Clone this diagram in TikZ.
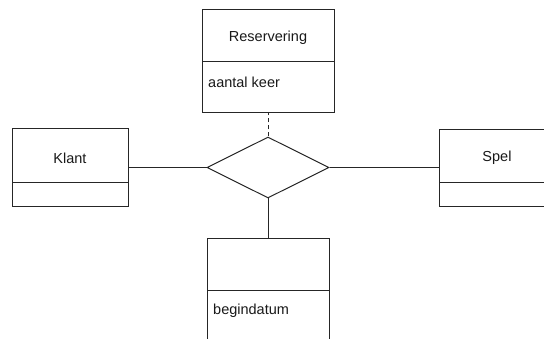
\documentclass[tikz,border=0pt]{standalone}
\usepackage{fontspec}
\setmainfont{Liberation Sans}
\usetikzlibrary{shapes.geometric}
\begin{document}
\begin{tikzpicture}[x=1pt,y=-1pt,
  ent/.style={draw=black!85,line width=1pt,rectangle,inner sep=0pt,anchor=north west},
  lbl/.style={font=\fontsize{14.5}{16}\selectfont,inner sep=0pt,text=black!90},
  link/.style={draw=black!85,line width=1pt},
  rel/.style={draw=black!85,line width=1pt,diamond,aspect=2,inner sep=0pt,minimum width=122pt,minimum height=61pt}]
\useasboundingbox (0,0) rectangle (544,339);
\clip (0,0) rectangle (544,339);
% entity boxes
\node[ent,minimum width=132pt,minimum height=103pt] (res) at (202,9) {};
\draw[link] (202,62) -- (334,62);
\node[lbl] (resT) at (268,38) {Reservering};
\node[lbl,anchor=west] (resA) at (208,82) {aantal keer};

\node[ent,minimum width=116pt,minimum height=78pt] (kl) at (12,128) {};
\draw[link] (12,183) -- (128,183);
\node[lbl] (klT) at (70,158) {Klant};

\node[ent,minimum width=116pt,minimum height=77pt] (sp) at (439,129) {};
\draw[link] (439,183) -- (555,183);
\node[lbl] (spT) at (497,158) {Spel};

\node[ent,minimum width=122pt,minimum height=130pt] (bd) at (207,238) {};
\draw[link] (207,291) -- (329,291);
\node[lbl,anchor=west] (bdA) at (213,311) {begindatum};

% relationship
\node[rel] (d) at (268,167.5) {};

% connectors
\draw[link] (kl.east |- d.west) -- (d.west);
\draw[link] (d.east) -- (sp.west |- d.east);
\draw[link] (d.south) -- (d.south |- bd.north);
\draw[link,dash pattern=on 4pt off 3pt] (d.north) -- (d.north |- res.south);
\end{tikzpicture}
\end{document}
